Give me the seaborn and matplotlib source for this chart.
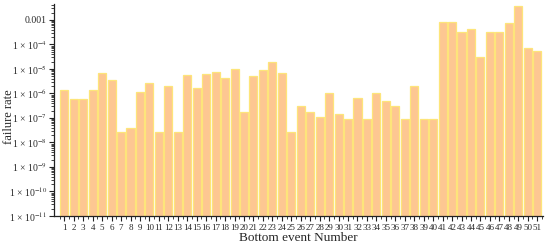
import numpy as np
import pandas as pd
import seaborn as sns
import matplotlib
matplotlib.use("Agg")
import matplotlib.pyplot as plt
from matplotlib.ticker import FixedLocator, FuncFormatter, LogLocator, NullFormatter

# Bottom event numbers and their failure rates
events = [str(i) for i in range(1, 52)]
rates = [
    1.4e-6, 6e-7, 6e-7, 1.4e-6, 6.7e-6, 3.6e-6, 2.8e-8, 4e-8, 1.2e-6, 2.8e-6,
    2.8e-8, 2e-6, 2.8e-8, 5.8e-6, 1.7e-6, 6e-6, 7.2e-6, 4.4e-6, 1e-5, 1.7e-7,
    5.2e-6, 9.3e-6, 1.9e-5, 6.9e-6, 2.8e-8, 3.2e-7, 1.7e-7, 1.1e-7, 1.0e-6, 1.4e-7,
    9e-8, 6.3e-7, 9.3e-8, 1.07e-6, 4.7e-7, 3.2e-7, 9.3e-8, 2e-6, 9.3e-8, 9.3e-8,
    7.9e-4, 7.9e-4, 3.1e-4, 4.2e-4, 3.2e-5, 3.1e-4, 3.1e-4, 7.4e-4, 3.8e-3, 6.9e-5,
    5.2e-5,
]

df = pd.DataFrame({"event": events, "rate": rates})

sns.set_style("ticks")
plt.rcParams["font.family"] = ["Liberation Serif", "DejaVu Serif"]
plt.rcParams["mathtext.fontset"] = "stix"

fig = plt.figure(figsize=(5.5, 2.46), dpi=100)
ax = fig.add_axes([0.098, 0.122, 0.889, 0.862])
ax.set_yscale("log")

sns.barplot(data=df, x="event", y="rate", color="#fdc792", saturation=1,
            edgecolor="#fde57a", linewidth=0.9, width=0.85, ax=ax)

ax.set_ylim(1e-11, 4.5e-3)
ax.set_xlim(-1.1, 50.6)


def fmt(v, pos):
    e = int(round(np.log10(v)))
    if e == -3:
        return "0.001"
    return "1 × 10$^{%d}$" % e


ax.yaxis.set_major_locator(LogLocator(base=10, numticks=20))
ax.yaxis.set_major_formatter(FuncFormatter(fmt))
ax.yaxis.set_minor_locator(LogLocator(base=10, subs=np.arange(2, 10), numticks=100))
ax.yaxis.set_minor_formatter(NullFormatter())

ax.xaxis.set_minor_locator(FixedLocator(np.arange(-0.5, 51, 1)))

ax.tick_params(axis="both", which="major", direction="out", length=3.5, width=0.8,
               labelsize=7, pad=1.5, color="#222222")
ax.tick_params(axis="both", which="minor", direction="out", length=2, width=0.6,
               color="#222222")
ax.tick_params(axis="x", labelsize=6.5, pad=2)

for s in ["top", "right"]:
    ax.spines[s].set_visible(False)
for s in ["left", "bottom"]:
    ax.spines[s].set_linewidth(0.9)
    ax.spines[s].set_color("#222222")

ax.set_xlabel("Bottom event Number", fontsize=9.5, va="center")
ax.xaxis.set_label_coords(0.5, -0.105)
ax.set_ylabel("failure rate", fontsize=9, va="center")
ax.yaxis.set_label_coords(-0.092, 0.47)

fig.savefig("out.png", dpi=100)
